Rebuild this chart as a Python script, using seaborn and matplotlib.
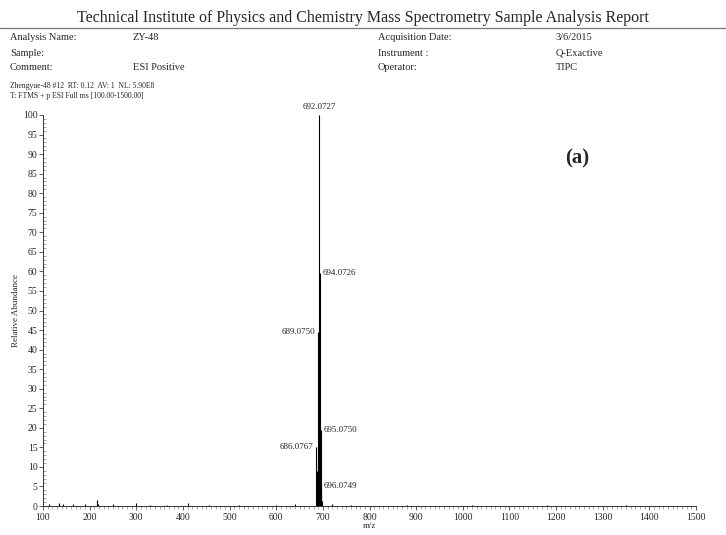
import matplotlib
matplotlib.use("Agg")
import matplotlib.pyplot as plt
from matplotlib.ticker import MultipleLocator
import seaborn as sns
import pandas as pd

# Labelled peaks of the isotope cluster
peak_mz = [686.0767, 689.0750, 692.0727, 694.0726, 695.0750, 696.0749]
peak_int = [15.0, 44.5, 100.0, 59.5, 19.5, 5.0]
peak_side = ["left", "left", "top", "right", "right", "right"]

# Unlabelled cluster members and low-level background ions
minor_mz = [687.07, 688.07, 690.07, 691.07, 693.07, 697.07, 698.07,
            112, 135, 142, 165, 190, 215, 217, 250, 300, 330, 365, 410, 455,
            520, 600, 640, 720, 760, 880, 1020, 1180, 1350]
minor_int = [6.0, 9.0, 12.0, 8.0, 10.0, 2.5, 1.2,
             0.5, 0.8, 0.4, 0.5, 0.4, 1.6, 0.6, 0.4, 0.7, 0.3, 0.3, 0.7, 0.3,
             0.3, 0.3, 0.4, 0.4, 0.3, 0.2, 0.2, 0.2, 0.2]

x_ticks = list(range(100, 1501, 100))
y_ticks = list(range(0, 101, 5))

header_rows = [
    ("Analysis Name:", "ZY-48", "Acquisition Date:", "3/6/2015"),
    ("Sample:", "", "Instrument :", "Q-Exactive"),
    ("Comment:", "ESI Positive", "Operator:", "TIPC"),
]
scan_info = ["Zhengyue-48 #12  RT: 0.12  AV: 1  NL: 5.90E8",
             "T: FTMS + p ESI Full ms [100.00-1500.00]"]

sns.set_theme(style="ticks")
plt.rcParams["font.family"] = ["Liberation Serif", "DejaVu Serif"]

spec = pd.DataFrame({"mz": peak_mz + minor_mz, "intensity": peak_int + minor_int})
spec = spec.sort_values("intensity")

W, H = 726, 535
fig = plt.figure(figsize=(W / 100, H / 100), dpi=100)
fig.patch.set_facecolor("white")

def fx(px):
    return px / W

def fy(py):
    return 1 - py / H

ax = fig.add_axes([fx(43), fy(506), fx(696) - fx(43), (506 - 115) / H])
ax.set_facecolor("white")
ax.vlines(spec["mz"], 0, spec["intensity"], colors="black", linewidth=0.8)
ax.set_xlim(100, 1500)
ax.set_ylim(0, 100)
ax.set_xticks(x_ticks)
ax.set_yticks(y_ticks)
ax.xaxis.set_minor_locator(MultipleLocator(10))
ax.yaxis.set_minor_locator(MultipleLocator(1))
ax.tick_params(axis="x", which="major", direction="out", length=3, width=0.6,
               labelsize=7, pad=2, color="#444444")
ax.tick_params(axis="x", which="minor", direction="out", length=1.8, width=0.4, color="#666666")
ax.tick_params(axis="y", which="major", direction="out", length=3, width=0.6,
               labelsize=7, pad=1, color="#444444")
ax.tick_params(axis="y", which="minor", direction="in", length=2, width=0.4, color="#666666")
sns.despine(ax=ax)
for s in ("left", "bottom"):
    ax.spines[s].set_linewidth(0.7)
    ax.spines[s].set_color("#333333")
ax.set_xlabel("m/z", fontsize=6.5, labelpad=0)
ax.set_ylabel("Relative Abundance", fontsize=6.5, labelpad=2)

# Peak annotations
for mz, inten, side in zip(peak_mz, peak_int, peak_side):
    lab = f"{mz:.4f}"
    if side == "top":
        ax.annotate(lab, (mz, inten), xytext=(0, 3), textcoords="offset points",
                    ha="center", va="bottom", fontsize=6.5, annotation_clip=False)
    elif side == "left":
        ax.annotate(lab, (mz, inten), xytext=(-2, 0), textcoords="offset points",
                    ha="right", va="center", fontsize=6.5)
    else:
        ax.annotate(lab, (mz, inten), xytext=(2, 0), textcoords="offset points",
                    ha="left", va="center", fontsize=6.5)

# Panel tag
fig.text(fx(577), fy(158), "(a)", fontsize=15, fontweight="bold", ha="center", va="center")

# Report header
fig.text(fx(363), fy(18), "Technical Institute of Physics and Chemistry Mass Spectrometry Sample Analysis Report",
         ha="center", va="center", fontsize=11.5)
fig.add_artist(plt.Line2D([0, 1], [fy(28), fy(28)], color="#777777", linewidth=0.9))
cols = [10, 133, 378, 556]
for i, row in enumerate(header_rows):
    y = fy(38 + i * 15)
    for c, txt in zip(cols, row):
        fig.text(fx(c), y, txt, ha="left", va="center", fontsize=7.5)
for i, line in enumerate(scan_info):
    fig.text(fx(10), fy(86 + i * 10), line, ha="left", va="center", fontsize=5.5)

fig.savefig("out.png", dpi=100, facecolor="white")
